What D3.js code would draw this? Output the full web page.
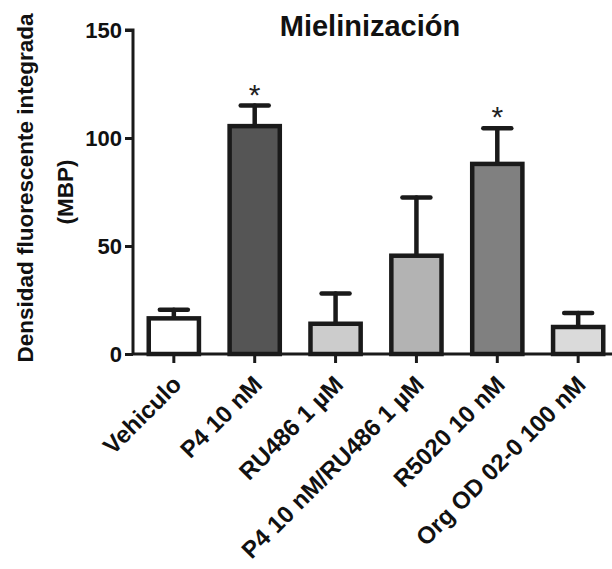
<!DOCTYPE html>
<html><head><meta charset="utf-8">
<script src="https://cdn.jsdelivr.net/npm/d3@7"></script>
<style>html,body{margin:0;padding:0;background:#fff;}svg{display:block;font-family:"Liberation Sans",Arial,sans-serif;}</style>
</head><body>
<script>
const categories = ["Vehiculo", "P4 10 nM", "RU486 1 µM", "P4 10 nM/RU486 1 µM", "R5020 10 nM", "Org OD 02-0 100 nM"];
const means = [16.5, 105.5, 14, 45.5, 88, 12.5];
const sem = [4, 9.5, 14, 27, 16.5, 6.5];
const fills = ["#ffffff", "#555555", "#cccccc", "#b3b3b3", "#808080", "#dadada"];
const significant = [false, true, false, false, true, false];
const yTicks = [0, 50, 100, 150];

const W = 612, H = 569;
const svg = d3.select("body").append("svg").attr("width", W).attr("height", H);

const y = d3.scaleLinear().domain([0, 150]).range([354, 30]);
const x = d3.scaleBand().domain(categories).range([133, 619]).paddingInner(0.33).paddingOuter(0.17);

// bars
svg.append("g").selectAll("rect").data(categories).join("rect")
  .attr("x", d => x(d) + 2)
  .attr("width", x.bandwidth() - 4)
  .attr("y", (d, i) => y(means[i]))
  .attr("height", (d, i) => y(0) - y(means[i]))
  .attr("fill", (d, i) => fills[i])
  .attr("stroke", "#1a1a1a").attr("stroke-width", 4.5);

// error bars
const eb = svg.append("g").attr("stroke", "#1a1a1a").attr("stroke-width", 4.5).attr("stroke-linecap", "round");
categories.forEach((c, i) => {
  const cx = x(c) + x.bandwidth() / 2;
  eb.append("line").attr("x1", cx).attr("x2", cx).attr("y1", y(means[i]) - 2).attr("y2", y(means[i] + sem[i]));
  eb.append("line").attr("x1", cx - 14).attr("x2", cx + 14).attr("y1", y(means[i] + sem[i])).attr("y2", y(means[i] + sem[i]));
});

// stars
svg.append("g").selectAll("text").data(categories.filter((c, i) => significant[i])).join("text")
  .attr("x", d => x(d) + x.bandwidth() / 2)
  .attr("y", d => { const i = categories.indexOf(d); return y(means[i] + sem[i]) - 1; })
  .attr("text-anchor", "middle").attr("font-size", 30).attr("fill", "#222")
  .text("*");

// y axis
const yAxis = svg.append("g").attr("transform", "translate(133,0)")
  .call(d3.axisLeft(y).tickValues(yTicks).tickSize(8).tickPadding(3));
yAxis.select(".domain").attr("stroke", "#1a1a1a").attr("stroke-width", 3).attr("d", `M-8,${y(150)}H0V${y(0)}`);
yAxis.selectAll(".tick line").attr("stroke", "#1a1a1a").attr("stroke-width", 3);
yAxis.selectAll(".tick text").attr("font-size", 22).attr("font-weight", "bold").attr("fill", "#111")
  .attr("font-family", "Liberation Sans, Arial, sans-serif");

// x axis
const xAxis = svg.append("g").attr("transform", `translate(0,${y(0)})`)
  .call(d3.axisBottom(x).tickSize(9).tickFormat(""));
xAxis.select(".domain").attr("stroke", "#1a1a1a").attr("stroke-width", 3).attr("d", `M133,0H612`);
xAxis.selectAll(".tick line").attr("stroke", "#1a1a1a").attr("stroke-width", 3);

// rotated category labels
svg.append("g").selectAll("text").data(categories).join("text")
  .attr("transform", d => `translate(${x(d) + x.bandwidth() / 2 + 9},${y(0) + 32}) rotate(-45)`)
  .attr("text-anchor", "end").attr("font-size", 24).attr("font-weight", "bold").attr("fill", "#111")
  .text(d => d);

// title
svg.append("text").attr("x", 370).attr("y", 36).attr("text-anchor", "middle")
  .attr("font-size", 29).attr("font-weight", "bold").attr("fill", "#111").text("Mielinización");

// y label
const yl = svg.append("text").attr("transform", "translate(0,188) rotate(-90)")
  .attr("text-anchor", "middle").attr("font-size", 22.5).attr("font-weight", "bold").attr("fill", "#111");
yl.append("tspan").attr("x", 0).attr("y", 33).text("Densidad fluorescente integrada");
yl.append("tspan").attr("x", -4).attr("y", 73).text("(MBP)");
</script>
</body></html>
